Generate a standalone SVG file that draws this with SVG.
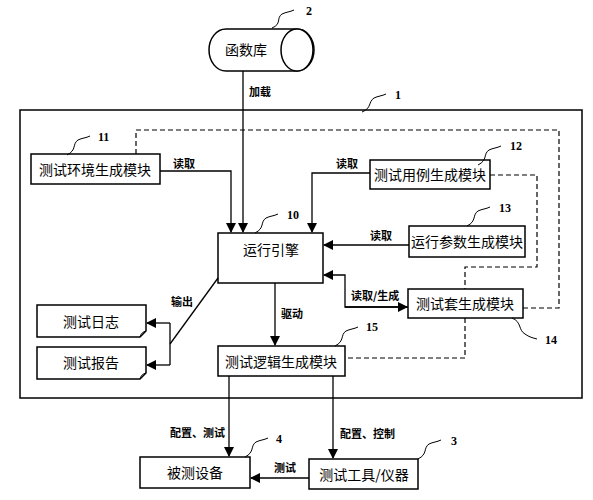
<svg xmlns="http://www.w3.org/2000/svg" width="593" height="500" viewBox="0 0 593 500">
<defs>
<marker id="ah" markerWidth="10" markerHeight="10" refX="9" refY="5" orient="auto" markerUnits="userSpaceOnUse">
<path d="M0,0 L10,5 L0,10 Z" fill="#000"/>
</marker>
<style>
.box{fill:#fff;stroke:#000;stroke-width:1.5}
.ln{fill:none;stroke:#000;stroke-width:1.3}
.ds{fill:none;stroke:#000;stroke-width:1.2;stroke-dasharray:5,3}
.sq{fill:none;stroke:#000;stroke-width:1}
.t{font-family:"Noto Sans CJK SC","Liberation Sans",sans-serif;font-size:14px;text-anchor:middle;dominant-baseline:central}
.l{font-family:"Noto Sans CJK SC","Liberation Sans",sans-serif;font-size:11px;font-weight:bold}
.n{font-family:"Liberation Serif",serif;font-size:12px;font-weight:bold}
</style>
</defs>
<rect width="593" height="500" fill="#fff"/>
<g id="system-1">
<rect x="20" y="110" width="562" height="288" class="box" fill="none" style="fill:none"/>
<path class="sq" d="M362,112 C372,108 368,102 374,98 C378,96 382,96 386,94"/>
<text class="n" x="395" y="99">1</text>
</g>
<g id="library-2">
<path class="box" d="M226,29 H297 A17,21 0 0 1 297,71 H226 A17,21 0 0 1 226,29 Z"/>
<ellipse cx="297" cy="50" rx="16" ry="21" class="box"/>
<text class="t" x="246" y="49">函数库</text>
<path class="sq" d="M272,28 C282,24 276,18 282,14 C286,12 290,12 294,10"/>
<text class="n" x="306" y="15">2</text>
</g>
<g id="env-11">
<rect x="31" y="154" width="129" height="30" class="box"/>
<text class="t" x="95" y="169">测试环境生成模块</text>
<path class="sq" d="M67,155 C77,150 72,144 78,140 C82,138 86,138 90,136"/>
<text class="n" x="98" y="141">11</text>
</g>
<g id="case-12">
<rect x="370" y="160" width="120" height="29" class="box"/>
<text class="t" x="430" y="174">测试用例生成模块</text>
<path class="sq" d="M478,165 C488,160 483,154 489,150 C493,148 497,148 501,146"/>
<text class="n" x="510" y="150">12</text>
</g>
<g id="param-13">
<rect x="409" y="226" width="116" height="31" class="box"/>
<text class="t" x="467" y="241">运行参数生成模块</text>
<path class="sq" d="M467,226 C477,221 472,215 478,211 C482,209 486,209 490,207"/>
<text class="n" x="499" y="212">13</text>
</g>
<g id="engine-10">
<rect x="218" y="233" width="105" height="50" class="box"/>
<text class="t" x="271" y="249">运行引擎</text>
<path class="sq" d="M255,233 C265,228 260,222 266,218 C270,216 274,216 278,214"/>
<text class="n" x="287" y="219">10</text>
</g>
<g id="suite-14">
<rect x="408" y="289" width="115" height="29" class="box"/>
<text class="t" x="465" y="303">测试套生成模块</text>
<path class="sq" d="M512,318 C522,322 518,330 525,334 C529,337 533,338 537,339"/>
<text class="n" x="545" y="344">14</text>
</g>
<g id="logic-15">
<rect x="218" y="346" width="127" height="30" class="box"/>
<text class="t" x="281" y="361">测试逻辑生成模块</text>
<path class="sq" d="M335,346 C345,341 340,335 346,331 C350,329 354,329 358,327"/>
<text class="n" x="366" y="331">15</text>
</g>
<g id="log">
<path class="box" d="M37,305 H146 V331 L140,337 H37 Z"/>
<path class="sq" d="M140,337 C141,333 143,332 146,331"/>
<text class="t" x="91" y="321">测试日志</text>
</g>
<g id="report">
<path class="box" d="M37,347 H146 V373 L140,379 H37 Z"/>
<path class="sq" d="M140,379 C141,375 143,374 146,373"/>
<text class="t" x="91" y="362">测试报告</text>
</g>
<g id="dut-4">
<rect x="140" y="457" width="110" height="31" class="box"/>
<text class="t" x="195" y="472">被测设备</text>
<path class="sq" d="M245,457 C255,452 250,446 256,442 C260,440 264,440 268,438"/>
<text class="n" x="276" y="443">4</text>
</g>
<g id="tool-3">
<rect x="309" y="459" width="109" height="30" class="box"/>
<text class="t" x="364" y="474">测试工具/仪器</text>
<path class="sq" d="M418,459 C428,454 423,448 429,444 C433,442 437,442 441,440"/>
<text class="n" x="451" y="445">3</text>
</g>
<g id="connectors">
<path class="ln" d="M243,71 V232" marker-end="url(#ah)"/>
<path class="ln" d="M160,171 H231 V232" marker-end="url(#ah)"/>
<path class="ln" d="M370,173 H312 V232" marker-end="url(#ah)"/>
<path class="ln" d="M409,245 H324" marker-end="url(#ah)"/>
<path class="ln" d="M408,307 H345 V275 H324" marker-end="url(#ah)"/>
<path class="ln" d="M345,307 H407" marker-end="url(#ah)"/>
<path class="ln" d="M275,283 V345" marker-end="url(#ah)"/>
<path class="ln" d="M218,278 L170,344"/>
<path class="ln" d="M170,323 V365"/>
<path class="ln" d="M170,323 H147" marker-end="url(#ah)"/>
<path class="ln" d="M170,365 H147" marker-end="url(#ah)"/>
<path class="ln" d="M229,376 V456" marker-end="url(#ah)"/>
<path class="ln" d="M333,376 V458" marker-end="url(#ah)"/>
<path class="ln" d="M309,478 H251" marker-end="url(#ah)"/>
<path class="ds" d="M136,154 V130 H559 V308 H523"/>
<path class="ds" d="M490,175 H537 V267 H465 V289"/>
<path class="ds" d="M465,318 V358 H345"/>
<text class="l" x="249" y="96">加载</text>
<text class="l" x="173" y="168">读取</text>
<text class="l" x="336" y="168">读取</text>
<text class="l" x="370" y="240">读取</text>
<text class="l" x="351" y="300">读取/生成</text>
<text class="l" x="281" y="318">驱动</text>
<text class="l" x="171" y="306">输出</text>
<text class="l" x="170" y="437">配置、测试</text>
<text class="l" x="340" y="438">配置、控制</text>
<text class="l" x="274" y="472">测试</text>
</g>
</svg>
